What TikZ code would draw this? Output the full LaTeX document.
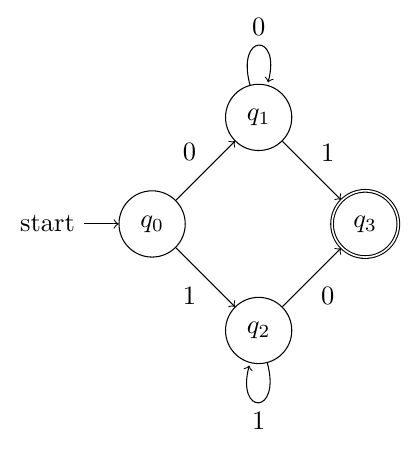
\documentclass[tikz,border=0pt]{standalone}
\usetikzlibrary{automata,positioning}
\begin{document}
\begin{tikzpicture}[->, auto, initial text=start]
  % page frame
  \useasboundingbox (-57.4pt,-85.3pt) rectangle (97.7pt,84.5pt);
  % states
  \node[state,initial]   (q0) at (0pt,0pt)        {$q_0$};
  \node[state]           (q1) at (40.2pt,40.2pt)  {$q_1$};
  \node[state]           (q2) at (40.2pt,-40.2pt) {$q_2$};
  \node[state,accepting] (q3) at (80.4pt,0pt)     {$q_3$};
  % transitions
  \path (q0) edge node {0} (q1)
        (q0) edge node[swap] {1} (q2)
        (q1) edge node {1} (q3)
        (q2) edge node[swap] {0} (q3)
        (q1) edge[loop above] node {0} ()
        (q2) edge[loop below] node {1} ();
\end{tikzpicture}
\end{document}
